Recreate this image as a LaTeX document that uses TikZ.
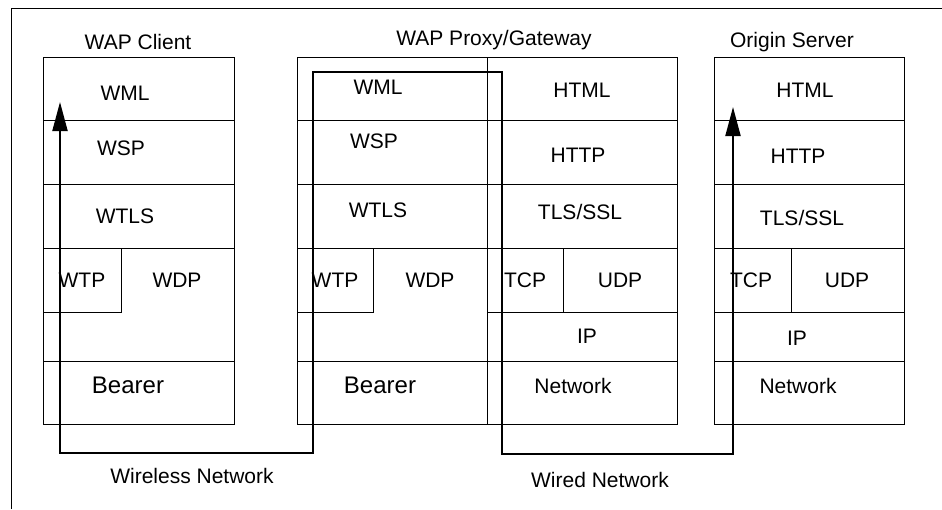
\documentclass[tikz,border=0pt]{standalone}
\usepackage{fontspec}
\setmainfont{Liberation Sans}
\usetikzlibrary{arrows.meta}

\begin{document}
\begin{tikzpicture}[x=0.5pt, y=-0.5pt,
    caixa/.style={line width=0.5pt},
    ruta/.style={line width=1pt, {Triangle[length=14.5pt, width=7.5pt]}-{Triangle[length=14.5pt, width=7.5pt]}},
    capa/.style={font=\fontsize{10.5}{12}\selectfont, anchor=base},
    portadora/.style={font=\fontsize{12}{14}\selectfont, anchor=base}]
    \useasboundingbox (0,0) rectangle (942,509);
    \draw[caixa] (11,509) -- (11,8) -- (942,8);

    % Pila del client
    \draw[caixa] (43,57) rectangle (234,424);
    \draw[caixa] (43,120) -- (234,120);
    \draw[caixa] (43,184) -- (234,184);
    \draw[caixa] (43,248) -- (234,248);
    \draw[caixa] (121,248) -- (121,312) -- (43,312);
    \draw[caixa] (43,361) -- (234,361);
    \node[capa] (clititol) at (138,49) {WAP Client};
    \node[capa] (cliwml) at (125,100) {WML};
    \node[capa] (cliwsp) at (121,155) {WSP};
    \node[capa] (cliwtls) at (125,223) {WTLS};
    \node[capa] (cliwtp) at (82,287) {WTP};
    \node[capa] (cliwdp) at (177,287) {WDP};
    \node[portadora] (clibearer) at (128,393) {Bearer};

    % Pila de la passarel.la
    \draw[caixa] (297,57) rectangle (677,424);
    \draw[caixa] (487,57) -- (487,424);
    \draw[caixa] (297,120) -- (677,120);
    \draw[caixa] (297,184) -- (677,184);
    \draw[caixa] (297,248) -- (677,248);
    \draw[caixa] (373,248) -- (373,312) -- (297,312);
    \draw[caixa] (487,312) -- (677,312);
    \draw[caixa] (563,248) -- (563,312);
    \draw[caixa] (297,361) -- (677,361);
    \node[capa] (gwtitol) at (494,45) {WAP Proxy/Gateway};
    \node[capa] (gwwml) at (378,94) {WML};
    \node[capa] (gwwsp) at (374,148) {WSP};
    \node[capa] (gwwtls) at (378,217) {WTLS};
    \node[capa] (gwwtp) at (335,287) {WTP};
    \node[capa] (gwwdp) at (430,287) {WDP};
    \node[portadora] (gwbearer) at (380,393) {Bearer};
    \node[capa] (gwhtml) at (582,97) {HTML};
    \node[capa] (gwhttp) at (578,162) {HTTP};
    \node[capa] (gwtls) at (580,219) {TLS/SSL};
    \node[capa] (gwtcp) at (525,287) {TCP};
    \node[capa] (gwudp) at (620,287) {UDP};
    \node[capa] (gwip) at (587,343) {IP};
    \node[capa] (gwxarxa) at (573,393) {Network};

    % Pila del servidor
    \draw[caixa] (714,57) rectangle (904,424);
    \draw[caixa] (714,120) -- (904,120);
    \draw[caixa] (714,184) -- (904,184);
    \draw[caixa] (714,248) -- (904,248);
    \draw[caixa] (714,312) -- (904,312);
    \draw[caixa] (791,248) -- (791,312);
    \draw[caixa] (714,361) -- (904,361);
    \node[capa] (srvtitol) at (792,47) {Origin Server};
    \node[capa] (srvhtml) at (805,97) {HTML};
    \node[capa] (srvhttp) at (798,163) {HTTP};
    \node[capa] (srvtls) at (802,225) {TLS/SSL};
    \node[capa] (srvtcp) at (751,287) {TCP};
    \node[capa] (srvudp) at (847,287) {UDP};
    \node[capa] (srvip) at (797,345) {IP};
    \node[capa] (srvxarxa) at (798,393) {Network};

    % Recorregut de les dades
    \coordinate (cli) at (60,102);
    \coordinate (clibaix) at (60,453);
    \coordinate (gwbaixa) at (313,453);
    \coordinate (gwdalta) at (313,72);
    \coordinate (gwdaltb) at (502,72);
    \coordinate (gwbaixb) at (502,454);
    \coordinate (srvbaix) at (733,454);
    \coordinate (srv) at (733,107);
    \draw[ruta] (cli) -- (clibaix) -- (gwbaixa) -- (gwdalta) -- (gwdaltb) -- (gwbaixb) -- (srvbaix) -- (srv);
    \node[capa] (senefil) at (192,483) {Wireless Network};
    \node[capa] (ambfil) at (600,487) {Wired Network};
\end{tikzpicture}
\end{document}
